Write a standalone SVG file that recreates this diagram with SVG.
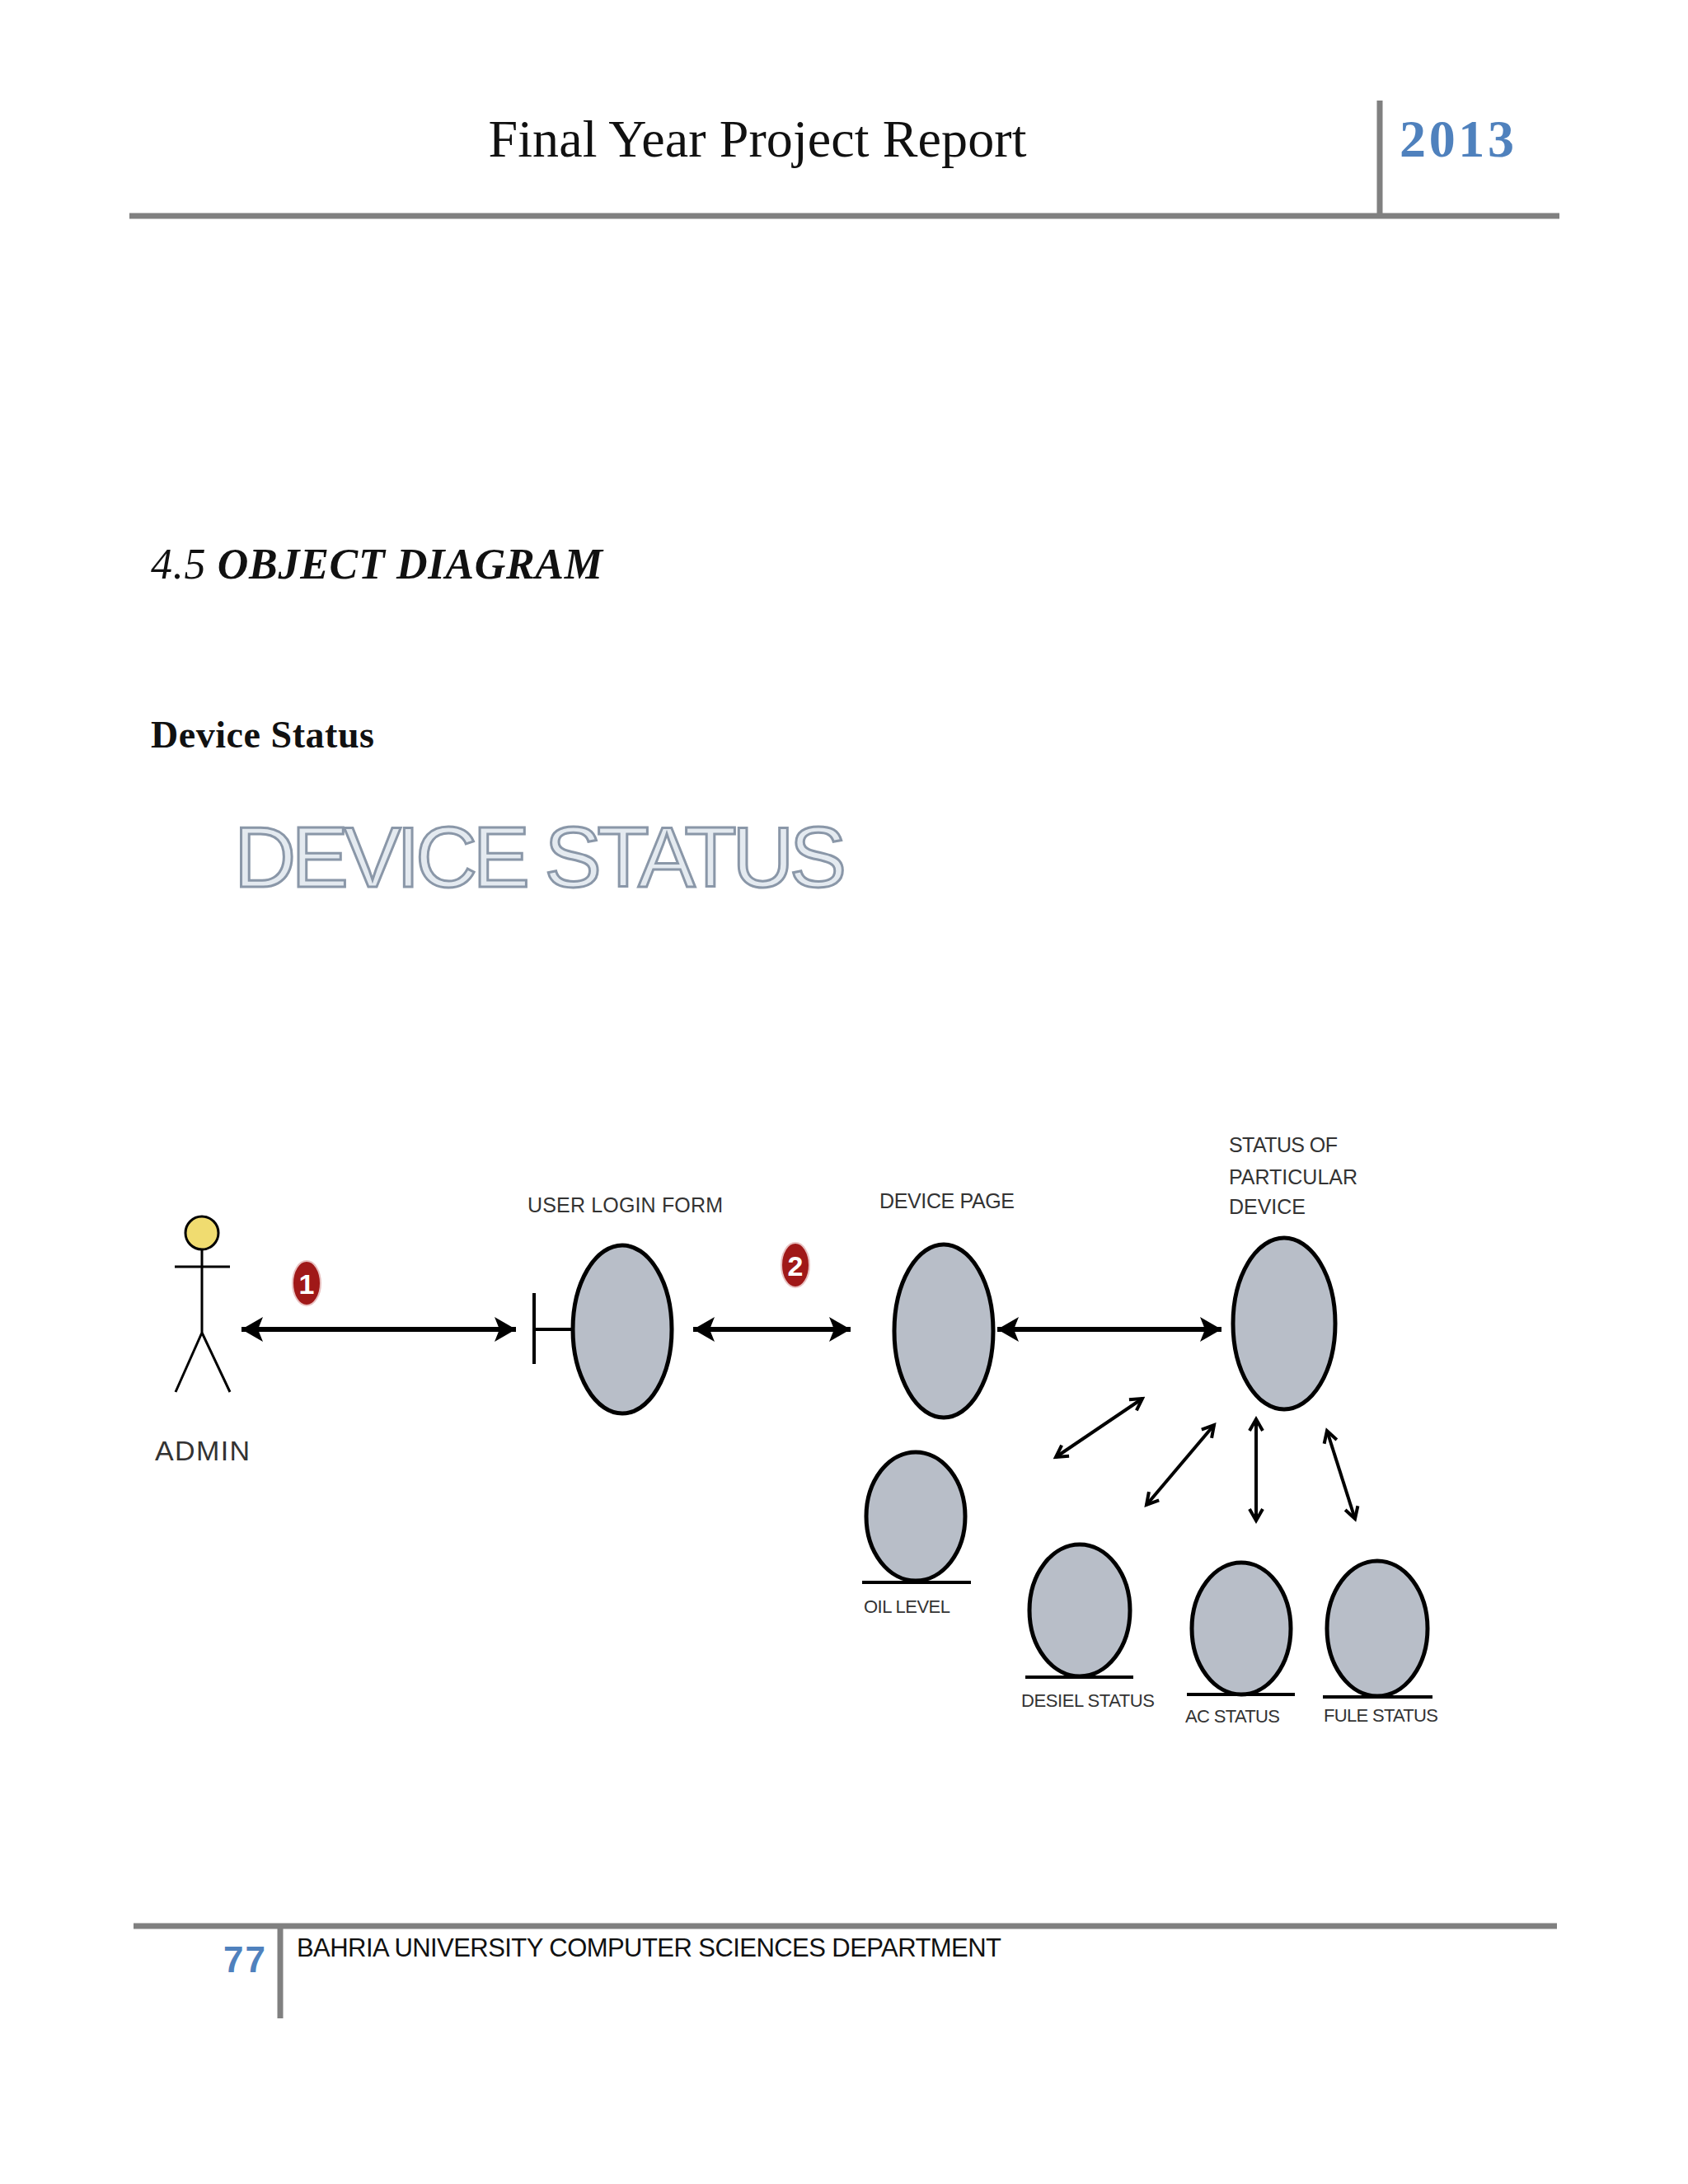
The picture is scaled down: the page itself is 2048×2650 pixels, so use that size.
<svg xmlns="http://www.w3.org/2000/svg" width="2048" height="2650" viewBox="0 0 2048 2650">
<style>
.lbl{font-family:"Liberation Sans",Arial,sans-serif;font-size:25px;fill:#333}
.sm{font-size:22px}
.obj{fill:#b8bec8;stroke:#000;stroke-width:5}
.base{stroke:#000;stroke-width:4}
.big{stroke:#000;stroke-width:6;fill:none}
.thin{stroke:#000;stroke-width:4;fill:none}
</style>
<defs>
<marker id="fh" markerUnits="userSpaceOnUse" markerWidth="30" markerHeight="34" refX="26" refY="17" orient="auto-start-reverse"><path d="M0,2 L26,17 L0,32 L6,17 Z" fill="#000"/></marker>
<marker id="oh" markerUnits="userSpaceOnUse" markerWidth="20" markerHeight="20" refX="16" refY="10" orient="auto-start-reverse"><path d="M2,2 L16,10 L2,18" fill="none" stroke="#000" stroke-width="4"/></marker>
</defs>
<rect width="2048" height="2650" fill="#fff"/>
<g id="header">
<text x="919" y="190" text-anchor="middle" font-family="Liberation Serif,serif" font-size="64" textLength="653" fill="#111">Final Year Project Report</text>
<text x="1698" y="190" font-family="Liberation Serif,serif" font-size="64" font-weight="bold" fill="#4f81bd" textLength="139">2013</text>
<line x1="1674" y1="122" x2="1674" y2="262" stroke="#808080" stroke-width="7"/>
<line x1="157" y1="262" x2="1892" y2="262" stroke="#808080" stroke-width="7"/>
</g>
<g id="titles">
<text x="183" y="702" font-family="Liberation Serif,serif" font-size="52" font-style="italic" textLength="548" fill="#111">4.5 <tspan font-weight="bold">OBJECT DIAGRAM</tspan></text>
<text x="183" y="907" font-family="Liberation Serif,serif" font-size="46" font-weight="bold" textLength="271" fill="#111">Device Status</text>
<text x="284" y="1076" font-family="Liberation Sans,Arial,sans-serif" font-size="104" textLength="743" fill="#e4eaf0" stroke="#8a97a8" stroke-width="3">DEVICE STATUS</text>
</g>
<g id="connectors">
<line class="big" x1="293" y1="1613" x2="626" y2="1613" marker-start="url(#fh)" marker-end="url(#fh)"/>
<line class="big" x1="841" y1="1613" x2="1032" y2="1613" marker-start="url(#fh)" marker-end="url(#fh)"/>
<line class="big" x1="1210" y1="1613" x2="1482" y2="1613" marker-start="url(#fh)" marker-end="url(#fh)"/>
<line class="thin" x1="1281" y1="1768" x2="1386" y2="1697" marker-start="url(#oh)" marker-end="url(#oh)"/>
<line class="thin" x1="1391" y1="1826" x2="1473" y2="1729" marker-start="url(#oh)" marker-end="url(#oh)"/>
<line class="thin" x1="1524" y1="1722" x2="1524" y2="1845" marker-start="url(#oh)" marker-end="url(#oh)"/>
<line class="thin" x1="1610" y1="1736" x2="1644" y2="1843" marker-start="url(#oh)" marker-end="url(#oh)"/>
</g>
<g id="badges">
<ellipse cx="372" cy="1557" rx="17" ry="27" fill="#a01818" stroke="#e8c0c0" stroke-width="2"/>
<text x="372" y="1570" text-anchor="middle" font-family="Liberation Sans,Arial,sans-serif" font-size="34" font-weight="bold" fill="#fff">1</text>
<ellipse cx="965" cy="1535" rx="17" ry="27" fill="#a01818" stroke="#e8c0c0" stroke-width="2"/>
<text x="965" y="1548" text-anchor="middle" font-family="Liberation Sans,Arial,sans-serif" font-size="34" font-weight="bold" fill="#fff">2</text>
</g>
<g id="admin">
<circle cx="245" cy="1496" r="20" fill="#f0dc70" stroke="#000" stroke-width="3"/>
<path d="M245,1516 V1617 M212,1537 H279 M245,1617 L213,1689 M245,1617 L279,1689" stroke="#000" stroke-width="3" fill="none"/>
<text class="lbl" x="188" y="1772" style="font-size:34px" textLength="115">ADMIN</text>
</g>
<g id="login">
<line class="base" x1="648" y1="1569" x2="648" y2="1655"/>
<line class="base" x1="648" y1="1613" x2="695" y2="1613"/>
<ellipse class="obj" cx="755" cy="1613" rx="60" ry="102"/>
<text class="lbl" x="640" y="1471" textLength="237">USER LOGIN FORM</text>
</g>
<g id="devicepage">
<ellipse class="obj" cx="1145" cy="1615" rx="60" ry="105"/>
<text class="lbl" x="1067" y="1466" textLength="164">DEVICE PAGE</text>
</g>
<g id="status">
<ellipse class="obj" cx="1558" cy="1606" rx="62" ry="104"/>
<text class="lbl" x="1491" y="1398" textLength="132">STATUS OF</text>
<text class="lbl" x="1491" y="1437" textLength="156">PARTICULAR</text>
<text class="lbl" x="1491" y="1473" textLength="93">DEVICE</text>
</g>
<g id="oil">
<ellipse class="obj" cx="1111" cy="1840" rx="60" ry="78"/>
<line class="base" x1="1046" y1="1920" x2="1178" y2="1920"/>
<text class="lbl sm" x="1048" y="1957" textLength="105">OIL LEVEL</text>
</g>
<g id="desiel">
<ellipse class="obj" cx="1310" cy="1954" rx="61" ry="80"/>
<line class="base" x1="1244" y1="2035" x2="1375" y2="2035"/>
<text class="lbl sm" x="1239" y="2071" textLength="162">DESIEL STATUS</text>
</g>
<g id="ac">
<ellipse class="obj" cx="1506" cy="1976" rx="60" ry="80"/>
<line class="base" x1="1440" y1="2056" x2="1571" y2="2056"/>
<text class="lbl sm" x="1438" y="2090" textLength="115">AC STATUS</text>
</g>
<g id="fule">
<ellipse class="obj" cx="1671" cy="1976" rx="61" ry="82"/>
<line class="base" x1="1605" y1="2059" x2="1738" y2="2059"/>
<text class="lbl sm" x="1606" y="2089" textLength="139">FULE STATUS</text>
</g>
<g id="footer">
<line x1="162" y1="2337" x2="1889" y2="2337" stroke="#808080" stroke-width="7"/>
<line x1="340" y1="2337" x2="340" y2="2449" stroke="#808080" stroke-width="7"/>
<text x="271" y="2393" font-family="Liberation Sans,Arial,sans-serif" font-size="44" font-weight="bold" fill="#4f81bd" textLength="51">77</text>
<text x="360" y="2374" font-family="Liberation Sans,Arial,sans-serif" font-size="31" fill="#111" textLength="855">BAHRIA UNIVERSITY COMPUTER SCIENCES DEPARTMENT</text>
</g>
</svg>
